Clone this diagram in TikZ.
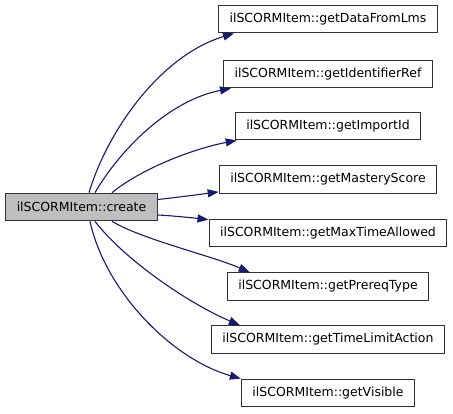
\documentclass[tikz,border=0pt]{standalone}
\usepackage{fontspec}
\setmainfont{DejaVu Sans}
\usetikzlibrary{arrows.meta}
\definecolor{edgecol}{HTML}{191970}
\definecolor{boxgray}{HTML}{BFBFBF}
\begin{document}
\begin{tikzpicture}[x=1pt,y=-1pt,
  fnbox/.style={draw=black!80,line width=1.2pt,minimum height=27.5pt,inner xsep=11pt,inner ysep=0pt,
    font=\fontsize{12.5pt}{14pt}\selectfont,fill=white},
  edge/.style={draw=edgecol,line width=1.1pt,-{Triangle[length=11pt,width=8pt]}}]
\useasboundingbox (0,0) rectangle (453,413);
\node[fnbox,fill=boxgray] (create) at (81.5,207) {ilSCORMItem::create};
\node[fnbox] (dfl) at (328,19) {ilSCORMItem::getDataFromLms};
\node[fnbox] (idr) at (328,74) {ilSCORMItem::getIdentifierRef};
\node[fnbox] (imp) at (328,126) {ilSCORMItem::getImportId};
\node[fnbox] (ms)  at (328,179.5) {ilSCORMItem::getMasteryScore};
\node[fnbox] (mta) at (328,233) {ilSCORMItem::getMaxTimeAllowed};
\node[fnbox] (pt)  at (328,286.5) {ilSCORMItem::getPrereqType};
\node[fnbox] (tla) at (328,339.5) {ilSCORMItem::getTimeLimitAction};
\node[fnbox] (vis) at (328,393) {ilSCORMItem::getVisible};
\draw[edge] ([xshift=7.5pt]create.north) .. controls +(19,-63) and +(-73,22) .. ([xshift=16pt]dfl.south west);
\draw[edge] ([xshift=13.5pt]create.north) .. controls +(25,-43) and +(-62,12) .. ([xshift=8pt]idr.south west);
\draw[edge] ([xshift=30.5pt]create.north) .. controls +(28,-23) and +(-46,9) .. ([xshift=2pt]imp.south west);
\draw[edge] ([yshift=7.5pt]create.east) .. controls +(18,-2) and +(-22,3) .. ([yshift=2pt]ms.south west);
\draw[edge] ([yshift=-8pt]create.east) .. controls +(18,1) and +(-18,-2) .. ([yshift=-1pt]mta.north west);
\draw[edge] ([xshift=30.5pt]create.south) .. controls +(30,18) and +(-40,-17) .. ([xshift=23pt]pt.north west);
\draw[edge] ([xshift=13.5pt]create.south) .. controls +(30,39) and +(-50,-21) .. ([xshift=29pt]tla.north west);
\draw[edge] ([xshift=8.5pt]create.south) .. controls +(15,69) and +(-70,-20) .. (vis.north west);
\end{tikzpicture}
\end{document}
